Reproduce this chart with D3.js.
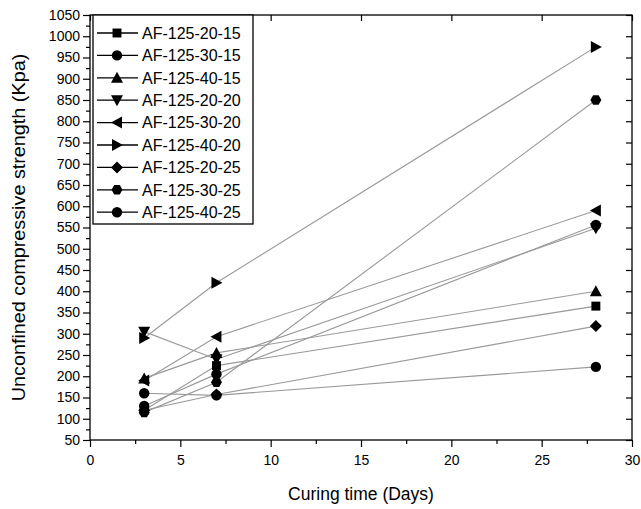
<!DOCTYPE html>
<html>
  <head>
    <script src="https://d3js.org/d3.v7.min.js"></script>
    <style>
    body { margin: 0; background: #fff; }
    text { font-family: "Liberation Sans", Arial, sans-serif; fill: #000; }
    .axis path, .axis line { stroke: #000; stroke-width: 1.2; }
    </style>
  </head>
  <body>
    <script>

    // chart size
    var w = 641;
    var h = 509;
    var m = { left: 90, right: 9, top: 15, bottom: 69 };

    // data
    var days = [3, 7, 28];
    var seriesNames = ["AF-125-20-15", "AF-125-30-15", "AF-125-40-15",
                       "AF-125-20-20", "AF-125-30-20", "AF-125-40-20",
                       "AF-125-20-25", "AF-125-30-25", "AF-125-40-25"];
    var seriesSymbols = ["square", "circle", "up", "down", "left", "right", "diamond", "hexagon", "circle"];
    var s20_15 = [120, 225, 365];
    var s30_15 = [160, 155, 222];
    var s40_15 = [195, 255, 400];
    var s20_20 = [305, 240, 548];
    var s30_20 = [190, 293, 590];
    var s40_20 = [290, 420, 975];
    var s20_25 = [120, 157, 318];
    var s30_25 = [115, 186, 850];
    var s40_25 = [130, 205, 556];
    var seriesValues = [s20_15, s30_15, s40_15, s20_20, s30_20, s40_20, s20_25, s30_25, s40_25];
    var yTicks = d3.range(50, 1051, 50);
    var xTicks = [0, 5, 10, 15, 20, 25, 30];

    var x = d3.scaleLinear().domain([0, 30]).range([m.left, w - m.right]);
    var y = d3.scaleLinear().domain([50, 1050]).range([h - m.bottom, m.top]);

    var svg = d3.select("body").append("svg")
      .attr("width", w)
      .attr("height", h);

    // marker path for a given symbol name
    function marker(name) {
      if (name == "square") return d3.symbol().type(d3.symbolSquare).size(80)();
      if (name == "circle") return d3.symbol().type(d3.symbolCircle).size(85)();
      if (name == "diamond") return "M0,-6L6,0L0,6L-6,0Z";
      if (name == "hexagon") {
        var pts = d3.range(6).map(function(i) {
          var a = Math.PI / 3 * i;
          return [5.5 * Math.cos(a), 5.5 * Math.sin(a)];
        });
        return "M" + pts.join("L") + "Z";
      }
      // triangles
      var t = { up: "M0,-6L6,5L-6,5Z", down: "M0,6L6,-5L-6,-5Z",
                left: "M-6,0L5,-6L5,6Z", right: "M6,0L-5,-6L-5,6Z" };
      return t[name];
    }

    // bottom axis
    svg.append("g")
      .attr("class", "axis")
      .attr("transform", "translate(0," + (h - m.bottom) + ")")
      .call(d3.axisBottom(x).tickValues(xTicks).tickSize(7).tickPadding(8).tickFormat(d3.format("d")))
      .call(function(g) { g.selectAll("text").attr("font-size", 14); g.select(".domain").remove(); });
    svg.append("g")
      .attr("class", "axis")
      .attr("transform", "translate(0," + (h - m.bottom) + ")")
      .call(d3.axisBottom(x).tickValues(d3.range(2.5, 30, 5)).tickSize(4).tickFormat(""))
      .call(function(g) { g.select(".domain").remove(); });

    // left axis
    svg.append("g")
      .attr("class", "axis")
      .attr("transform", "translate(" + m.left + ",0)")
      .call(d3.axisLeft(y).tickValues(yTicks).tickSize(7).tickPadding(3).tickFormat(d3.format("d")))
      .call(function(g) { g.selectAll("text").attr("font-size", 14); g.select(".domain").remove(); });
    svg.append("g")
      .attr("class", "axis")
      .attr("transform", "translate(" + m.left + ",0)")
      .call(d3.axisLeft(y).tickValues(d3.range(75, 1050, 50)).tickSize(4).tickFormat(""))
      .call(function(g) { g.select(".domain").remove(); });

    // mirrored inward ticks on top and right
    svg.append("g")
      .attr("class", "axis")
      .attr("transform", "translate(" + (w - m.right) + ",0)")
      .call(d3.axisLeft(y).tickValues(yTicks).tickSize(6).tickFormat(""))
      .call(function(g) { g.select(".domain").remove(); });
    svg.append("g")
      .attr("class", "axis")
      .attr("transform", "translate(0," + m.top + ")")
      .call(d3.axisBottom(x).tickValues(xTicks).tickSize(6).tickFormat(""))
      .call(function(g) { g.select(".domain").remove(); });

    // frame
    svg.append("rect")
      .attr("x", m.left)
      .attr("y", m.top)
      .attr("width", w - m.left - m.right)
      .attr("height", h - m.top - m.bottom)
      .attr("fill", "none")
      .attr("stroke", "#000")
      .attr("stroke-width", 1.3);

    // lines
    var line = d3.line()
      .x(function(d, i) { return x(days[i]); })
      .y(function(d) { return y(d); });

    svg.append("g").selectAll("path")
      .data(seriesValues)
      .enter()
      .append("path")
      .attr("d", line)
      .attr("fill", "none")
      .attr("stroke", "#999")
      .attr("stroke-width", 1.1);

    // markers
    seriesValues.forEach(function(vals, k) {
      svg.append("g").selectAll("path")
        .data(vals)
        .enter()
        .append("path")
        .attr("transform", function(d, i) { return "translate(" + x(days[i]) + "," + y(d) + ")"; })
        .attr("d", marker(seriesSymbols[k]))
        .attr("fill", "#000");
    });

    // legend
    var legend = svg.append("g").attr("transform", "translate(93,15)");
    legend.append("rect")
      .attr("width", 160)
      .attr("height", 209)
      .attr("fill", "#fff")
      .attr("stroke", "#000")
      .attr("stroke-width", 1.3);
    var items = legend.selectAll("g.item")
      .data(seriesNames)
      .enter()
      .append("g")
      .attr("class", "item")
      .attr("transform", function(d, i) { return "translate(0," + (18 + i * 22.4) + ")"; });
    items.append("line")
      .attr("x1", 4).attr("x2", 45)
      .attr("stroke", "#000")
      .attr("stroke-width", 1.3);
    items.append("path")
      .attr("transform", "translate(24,0)")
      .attr("d", function(d, i) { return marker(seriesSymbols[i]); })
      .attr("fill", "#000");
    items.append("text")
      .attr("x", 49)
      .attr("dy", "0.36em")
      .attr("font-size", 16)
      .text(function(d) { return d; });

    // axis titles
    svg.append("text")
      .attr("x", (m.left + w - m.right) / 2)
      .attr("y", 500)
      .attr("text-anchor", "middle")
      .attr("font-size", 17.5)
      .text("Curing time (Days)");
    svg.append("text")
      .attr("transform", "translate(25," + ((m.top + h - m.bottom) / 2) + ") rotate(-90) scale(1.1,1)")
      .attr("text-anchor", "middle")
      .attr("font-size", 18)
      .text("Unconfined compressive strength (Kpa)");

    </script>
  </body>
</html>
